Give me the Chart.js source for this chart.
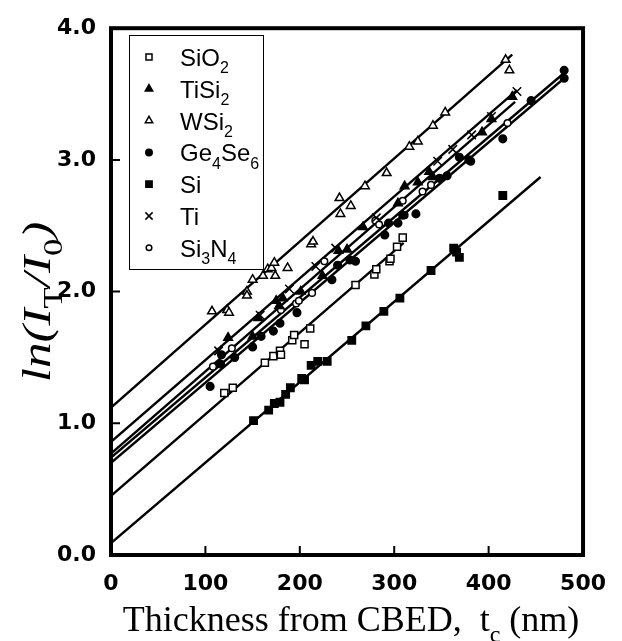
<!DOCTYPE html>
<html>
<head>
<meta charset="utf-8">
<style>
  html, body { margin: 0; padding: 0; background: #fff; }
</style>
<script src="https://cdn.jsdelivr.net/npm/chart.js@4/dist/chart.umd.min.js"></script>
</head>
<body>
<canvas id="chart" width="622" height="641"></canvas>
<script>
// thickness from CBED (nm) and ln(IT/I0)
const sio2X = [120, 129, 163, 172, 179, 180, 192, 194, 205, 211, 259, 279, 281, 295, 296, 303, 309];
const sio2Y = [1.23, 1.27, 1.46, 1.51, 1.55, 1.52, 1.63, 1.67, 1.60, 1.72, 2.05, 2.13, 2.17, 2.23, 2.25, 2.34, 2.41];

const tisi2X = [124, 150, 156, 175, 178, 182, 201, 224, 241, 250, 267, 304, 311, 325, 337, 341, 393, 403, 425];
const tisi2Y = [1.65, 1.66, 1.80, 1.93, 1.89, 1.95, 2.00, 2.12, 2.31, 2.32, 2.49, 2.67, 2.80, 2.83, 2.91, 2.87, 3.21, 3.31, 3.48];

const wsi2X = [107, 123, 125, 144, 144, 150, 161, 166, 170, 173, 174, 187, 212, 214, 242, 243, 254, 269, 292, 316, 325, 341, 354, 418, 422];
const wsi2Y = [1.85, 1.86, 1.84, 2.00, 1.97, 2.09, 2.12, 2.17, 2.18, 2.22, 2.12, 2.18, 2.36, 2.38, 2.71, 2.59, 2.65, 2.80, 2.90, 3.10, 3.14, 3.26, 3.36, 3.76, 3.68];

const geseX = [105, 116, 117, 131, 150, 159, 172, 179, 197, 234, 240, 253, 259, 290, 294, 304, 309, 323, 348, 356, 369, 379, 381, 415, 445, 480, 480];
const geseY = [1.28, 1.45, 1.52, 1.50, 1.58, 1.66, 1.70, 1.76, 1.84, 2.09, 2.20, 2.24, 2.23, 2.43, 2.52, 2.52, 2.58, 2.59, 2.86, 2.88, 3.02, 3.00, 2.99, 3.16, 3.45, 3.68, 3.62];

const siX = [151, 167, 173, 179, 185, 190, 202, 205, 212, 219, 229, 255, 270, 289, 306, 339, 363, 366, 369, 415];
const siY = [1.02, 1.10, 1.15, 1.16, 1.22, 1.27, 1.34, 1.33, 1.44, 1.47, 1.47, 1.63, 1.74, 1.85, 1.95, 2.16, 2.33, 2.30, 2.26, 2.73];

const tiX = [114, 158, 189, 217, 238, 281, 346, 362, 382, 403, 430];
const tiY = [1.55, 1.82, 2.02, 2.19, 2.33, 2.56, 2.99, 3.08, 3.19, 3.33, 3.52];

const si3n4X = [108, 128, 180, 196, 199, 213, 226, 280, 284, 309, 311, 330, 339, 420];
const si3n4Y = [1.43, 1.57, 1.86, 1.91, 1.93, 1.99, 2.23, 2.54, 2.51, 2.69, 2.58, 2.76, 2.81, 3.28];

// fitted lines: value at t = 0 and end point
const fitY0 = [0.45, 0.77, 1.12, 0.70, 0.09, 0.86, 0.74];
const fitX1 = [310, 428, 425, 480, 455, 430, 480];
const fitY1 = [2.37, 3.44, 3.80, 3.62, 2.87, 3.53, 3.66];

const xTicks = [0, 100, 200, 300, 400, 500];
const yTicks = [0, 1, 2, 3, 4];

const seriesX = [sio2X, tisi2X, wsi2X, geseX, siX, tiX, si3n4X];
const seriesY = [sio2Y, tisi2Y, wsi2Y, geseY, siY, tiY, si3n4Y];
const labelParts = [
    [['SiO', 0], ['2', 1]],
    [['TiSi', 0], ['2', 1]],
    [['WSi', 0], ['2', 1]],
    [['Ge', 0], ['4', 1], ['Se', 0], ['6', 1]],
    [['Si', 0]],
    [['Ti', 0]],
    [['Si', 0], ['3', 1], ['N', 0], ['4', 1]]
];
const markers = [
    { pointStyle: 'rect', radius: 5, fill: '#fff' },
    { pointStyle: 'triangle', radius: 5, fill: '#000' },
    { pointStyle: 'triangle', radius: 5, fill: '#fff' },
    { pointStyle: 'circle', radius: 3.8, fill: '#000' },
    { pointStyle: 'rect', radius: 5.2, fill: '#000' },
    { pointStyle: 'crossRot', radius: 6, fill: '#000' },
    { pointStyle: 'circle', radius: 3.3, fill: '#fff' }
];

const pointSets = seriesX.map((xs, i) => ({
    data: xs.map((v, j) => ({ x: v, y: seriesY[i][j] })),
    pointStyle: markers[i].pointStyle,
    pointRadius: markers[i].radius,
    pointBackgroundColor: markers[i].fill,
    pointBorderColor: '#000',
    pointBorderWidth: 1.5,
    showLine: false
}));

const lineSets = fitY0.map((y0, i) => ({
    data: [{ x: 0, y: y0 }, { x: fitX1[i], y: fitY1[i] }],
    borderColor: '#000',
    borderWidth: 2.4,
    pointRadius: 0,
    showLine: true,
    fill: false
}));

const drawParts = (ctx, parts, x, y, size, family, style, subStyle) => {
    parts.forEach(([t, sub]) => {
        ctx.font = sub ? `${subStyle} ${Math.round(size * 0.68)}px ${family}` : `${style} ${size}px ${family}`;
        ctx.fillText(t, x, y + (sub ? size * 0.3 : 0));
        x += ctx.measureText(t).width;
    });
    return x;
};

const partsWidth = (ctx, parts, size, family, style, subStyle) => {
    let w = 0;
    parts.forEach(([t, sub]) => {
        ctx.font = sub ? `${subStyle} ${Math.round(size * 0.68)}px ${family}` : `${style} ${size}px ${family}`;
        w += ctx.measureText(t).width;
    });
    return w;
};

const decorations = {
    id: 'decorations',
    afterDraw(chart) {
        const { ctx, chartArea: a, scales: { x, y } } = chart;
        ctx.save();
        ctx.strokeStyle = '#000';
        ctx.fillStyle = '#000';

        // inward ticks
        ctx.lineWidth = 2;
        ctx.beginPath();
        xTicks.slice(1, -1).forEach(v => {
            const px = x.getPixelForValue(v);
            ctx.moveTo(px, a.bottom);
            ctx.lineTo(px, a.bottom - 9);
        });
        yTicks.slice(1, -1).forEach(v => {
            const py = y.getPixelForValue(v);
            ctx.moveTo(a.left, py);
            ctx.lineTo(a.left + 9, py);
        });
        ctx.stroke();

        // frame
        ctx.lineWidth = 4;
        ctx.strokeRect(a.left, a.top, a.right - a.left, a.bottom - a.top);

        // legend
        ctx.fillStyle = '#fff';
        ctx.fillRect(129, 35, 134, 234);
        ctx.lineWidth = 1;
        ctx.strokeRect(129.5, 35.5, 134, 234);
        labelParts.forEach((parts, i) => {
            const cy = 57 + i * 31.8;
            ctx.fillStyle = markers[i].fill;
            ctx.strokeStyle = '#000';
            ctx.lineWidth = 1.5;
            Chart.helpers.drawPoint(ctx, {
                pointStyle: markers[i].pointStyle,
                radius: markers[i].radius * 0.85,
                borderWidth: 1.5,
                rotation: 0
            }, 149, cy);
            ctx.fillStyle = '#000';
            ctx.textBaseline = 'alphabetic';
            ctx.textAlign = 'left';
            drawParts(ctx, parts, 180, cy + 9, 24, '"Liberation Sans", Arial, sans-serif', 'normal', 'normal');
        });

        // x axis title
        const xt = [['Thickness from CBED,  t', 0], ['c', 1], [' (nm)', 0]];
        const serif = '"Liberation Serif", "Times New Roman", serif';
        const xw = partsWidth(ctx, xt, 36, serif, 'normal', 'normal');
        ctx.fillStyle = '#000';
        drawParts(ctx, xt, (a.left + a.right) / 2 - xw / 2 + 4, 631, 36, serif, 'normal', 'normal');

        // y axis title, drawn a bit elongated like the original
        const yt = [['ln(', 0], ['I', 0], ['T', 1], ['/', 0], ['I', 0], ['0', 1], [')', 0]];
        const yw = partsWidth(ctx, yt, 40, serif, 'italic', 'normal');
        ctx.translate(50, 302);
        ctx.rotate(-Math.PI / 2);
        ctx.scale(1.28, 1);
        drawParts(ctx, yt, -yw / 2, 0, 40, serif, 'italic', 'normal');
        ctx.restore();
    }
};

const tickFont = { family: '"DejaVu Sans", sans-serif', size: 22, weight: 'bold' };

new Chart(document.getElementById('chart'), {
    type: 'scatter',
    data: { datasets: [...pointSets, ...lineSets] },
    options: {
        responsive: false,
        animation: false,
        layout: { padding: { top: 26, right: 33, left: 0, bottom: 0 } },
        plugins: { legend: { display: false }, tooltip: { enabled: false } },
        scales: {
            x: {
                type: 'linear',
                min: 0,
                max: 500,
                afterFit: scale => { scale.height = 86; },
                afterBuildTicks: scale => { scale.ticks = xTicks.map(v => ({ value: v })); },
                grid: { drawOnChartArea: false, drawTicks: false },
                border: { display: false },
                ticks: { font: tickFont, color: '#000', padding: 16, maxRotation: 0, autoSkip: false }
            },
            y: {
                type: 'linear',
                min: 0,
                max: 4,
                afterFit: scale => { scale.width = 111; },
                afterBuildTicks: scale => { scale.ticks = yTicks.map(v => ({ value: v })); },
                grid: { drawOnChartArea: false, drawTicks: false },
                border: { display: false },
                ticks: { font: tickFont, color: '#000', padding: 15, callback: v => v.toFixed(1), autoSkip: false }
            }
        }
    },
    plugins: [decorations]
});
</script>
</body>
</html>
